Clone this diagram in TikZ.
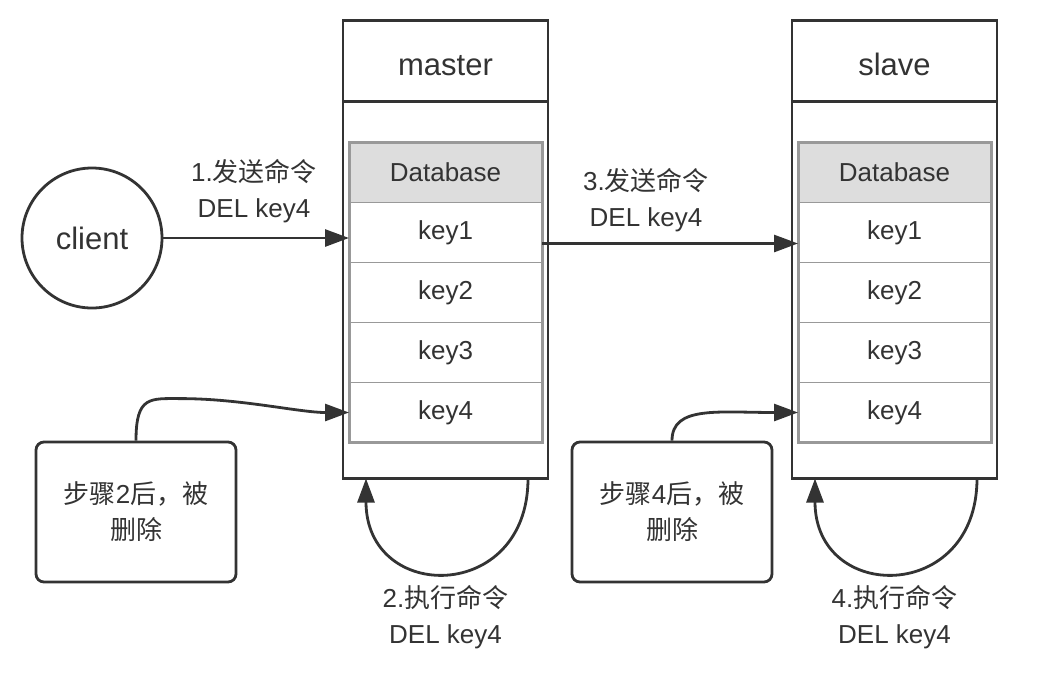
\documentclass[tikz,border=0pt]{standalone}
\usepackage{fontspec}
\setmainfont{Liberation Sans}
\newfontfamily\cjk{Noto Sans CJK SC}
\newcommand\zh[1]{{\cjk #1}}
\usepackage{xcolor}
\usepackage{tikz}
\usetikzlibrary{positioning,arrows.meta}
\definecolor{ink}{HTML}{333333}
\definecolor{dbfill}{HTML}{DDDDDD}
\definecolor{dbline}{HTML}{999999}

\begin{document}
\begin{tikzpicture}[x=1pt, y=-1pt, node distance=0pt,
    every node/.style={text=ink, font=\fontsize{26pt}{36pt}\selectfont},
    hostbox/.style={rectangle, draw=ink, line width=2.8pt, minimum width=205pt, inner sep=0pt, outer sep=0pt, font=\fontsize{31pt}{36pt}\selectfont},
    dbrow/.style={rectangle, draw=dbline, line width=1.4pt, fill=white, minimum width=193pt, minimum height=60pt, inner sep=0pt, outer sep=0pt},
    dbframe/.style={draw=dbline, line width=3pt},
    note/.style={rectangle, rounded corners=8pt, draw=ink, line width=2.8pt, minimum width=200pt, minimum height=140pt, align=center},
    lbl/.style={align=center, inner sep=0pt},
    arr/.style={draw=ink, line width=2.8pt, -{Triangle[length=24pt,width=17pt]}}]
    \useasboundingbox (0,0) rectangle (1038,678);

    % master
    \node[hostbox, minimum height=81pt, text height=29pt] (mhead) at (445.5,61) {master};
    \node[hostbox, minimum height=377pt, below=of mhead] (mbody) {};
    \node[dbrow, fill=dbfill, below=41pt of mhead] (mdb) {Database};
    \node[dbrow, below=of mdb] (mk1) {key1};
    \node[dbrow, below=of mk1] (mk2) {key2};
    \node[dbrow, below=of mk2] (mk3) {key3};
    \node[dbrow, below=of mk3] (mk4) {key4};
    \draw[dbframe] (mdb.north west) rectangle (mk4.south east);

    % slave
    \node[hostbox, minimum height=81pt, text height=29pt] (shead) at (894.5,61) {slave};
    \node[hostbox, minimum height=377pt, below=of shead] (sbody) {};
    \node[dbrow, fill=dbfill, below=41pt of shead] (sdb) {Database};
    \node[dbrow, below=of sdb] (sk1) {key1};
    \node[dbrow, below=of sk1] (sk2) {key2};
    \node[dbrow, below=of sk2] (sk3) {key3};
    \node[dbrow, below=of sk3] (sk4) {key4};
    \draw[dbframe] (sdb.north west) rectangle (sk4.south east);

    % client and notes
    \node[circle, draw=ink, line width=2.8pt, minimum size=140pt, inner sep=0pt, font=\fontsize{31pt}{36pt}\selectfont] (client) at (92,238) {client};
    \node[note] (mnote) at (136,512) {\zh{步骤}2\zh{后，被}\\\zh{删除}};
    \node[note] (snote) at (672,512) {\zh{步骤}4\zh{后，被}\\\zh{删除}};

    % commands
    \draw[arr] (client) -- (client -| mk1.west);
    \node[lbl] (send1) at (254,191) {1.\zh{发送命令}\\DEL key4};
    \draw[arr] ([yshift=-11pt]mk1.east) -- ([yshift=-11pt]sk1.west);
    \node[lbl] (send3) at (646,200) {3.\zh{发送命令}\\DEL key4};

    \draw[arr] ([xshift=-20pt]mbody.south east) .. controls +(0,125) and +(0,125) .. ([xshift=23pt]mbody.south west);
    \node[lbl, below=107pt of mbody] (exec2) {2.\zh{执行命令}\\DEL key4};
    \draw[arr] ([xshift=-20pt]sbody.south east) .. controls +(0,125) and +(0,125) .. ([xshift=23pt]sbody.south west);
    \node[lbl, below=107pt of sbody] (exec4) {4.\zh{执行命令}\\DEL key4};

    % deleted key4
    \draw[arr] (mnote.north) .. controls +(0,-45) and +(-31,0) .. ++(45,-42) .. controls +(60,0) and +(-50,0) .. (mk4.west);
    \draw[arr] (snote.north) .. controls +(0,-35) and +(-80,0) .. (sk4.west);
\end{tikzpicture}
\end{document}
